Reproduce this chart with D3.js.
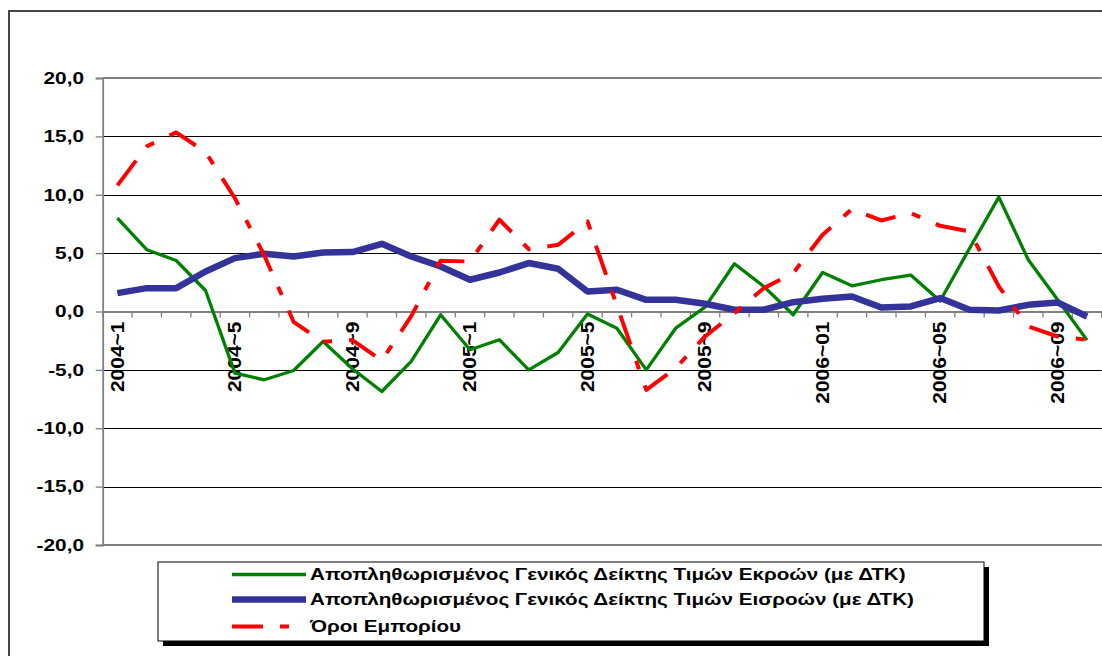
<!DOCTYPE html>
<html>
<head>
<meta charset="utf-8">
<script src="https://cdn.jsdelivr.net/npm/d3@7"></script>
<style>
  html, body { margin: 0; padding: 0; background: #fff; }
  svg { display: block; }
  text { font-family: "Liberation Sans", Arial, sans-serif; font-weight: bold; fill: #000; }
</style>
</head>
<body>
<svg id="chart" width="1102" height="656"></svg>
<script>
const categories = [
  "2004~1","2004~2","2004~3","2004~4","2004~5","2004~6","2004~7","2004~8","2004~9","2004~10","2004~11","2004~12",
  "2005~1","2005~2","2005~3","2005~4","2005~5","2005~6","2005~7","2005~8","2005~9","2005~10","2005~11","2005~12",
  "2006~01","2006~02","2006~03","2006~04","2006~05","2006~06","2006~07","2006~08","2006~09","2006~10"
];
const outputPrices = [8.0, 5.29, 4.37, 1.8, -5.28, -5.85, -5.05, -2.57, -4.9, -6.85, -4.28, -0.28,
  -3.28, -2.42, -5.0, -3.51, -0.22, -1.43, -5.0, -1.43, 0.37, 4.09, 2.14, -0.28,
  3.34, 2.2, 2.72, 3.12, 0.9, 5.4, 9.8, 4.43, 1.0, -2.45];
const inputPrices = [1.57, 2.0, 2.0, 3.43, 4.57, 4.94, 4.71, 5.06, 5.09, 5.8, 4.71, 3.86,
  2.72, 3.34, 4.15, 3.66, 1.71, 1.86, 1.0, 1.0, 0.66, 0.15, 0.15, 0.8,
  1.09, 1.29, 0.34, 0.43, 1.15, 0.15, 0.09, 0.57, 0.77, -0.43];
const termsOfTrade = [10.8, 14.14, 15.34, 13.66, 9.7, 4.8, -0.9, -2.6, -2.45, -4.2, -0.4, 4.35,
  4.28, 7.86, 5.34, 5.71, 7.71, 0.5, -6.71, -4.85, -2.14, -0.14, 2.0, 3.29,
  6.57, 8.77, 7.8, 8.43, 7.34, 6.86, 2.14, -1.28, -2.14, -2.43];
const yTicks = [-20, -15, -10, -5, 0, 5, 10, 15, 20];
const seriesNames = [
  "Αποπληθωρισμένος Γενικός Δείκτης Τιμών Εκροών (με ΔΤΚ)",
  "Αποπληθωρισμένος Γενικός Δείκτης Τιμών Εισροών (με ΔΤΚ)",
  "Όροι Εμπορίου"
];
const labelEvery = 4;

const series = [
  { name: seriesNames[0], values: outputPrices, color: "#008000", width: 3.3, dash: null },
  { name: seriesNames[1], values: inputPrices, color: "#333399", width: 6.5, dash: null },
  { name: seriesNames[2], values: termsOfTrade, color: "#ff0000", width: 4, dash: "31,17,9,17" }
];

const svg = d3.select("#chart");
const plot = { left: 102.7, right: 1101.7, top: 78, bottom: 545 };
const SX = 1.3; // horizontal stretch of text

// outer frame
svg.append("rect").attr("x", 9).attr("y", 11).attr("width", 1200).attr("height", 800)
  .attr("fill", "none").attr("stroke", "#333").attr("stroke-width", 1.8);

const x = d3.scaleBand().domain(categories).range([plot.left, plot.right]).paddingInner(0).paddingOuter(0);
const y = d3.scaleLinear().domain([-20, 20]).range([plot.bottom, plot.top]);

// gridlines
svg.append("g").selectAll("line").data(yTicks.filter(d => d !== 0 && Math.abs(d) !== 20)).join("line")
  .attr("x1", plot.left).attr("x2", plot.right)
  .attr("y1", d => Math.round(y(d)) + 0.5).attr("y2", d => Math.round(y(d)) + 0.5)
  .attr("stroke", "#000").attr("stroke-width", 1);
svg.append("g").selectAll("line").data(yTicks.filter(d => Math.abs(d) === 20)).join("line")
  .attr("x1", plot.left).attr("x2", plot.right)
  .attr("y1", d => y(d)).attr("y2", d => y(d))
  .attr("stroke", "#808080").attr("stroke-width", 1.8);

// y axis
const yAxis = d3.axisLeft(y).tickValues(yTicks).tickSize(7).tickFormat("");
const gy = svg.append("g").attr("transform", `translate(${plot.left},0)`).call(yAxis);
gy.select(".domain").attr("stroke", "#808080").attr("stroke-width", 1.8);
gy.selectAll(".tick line").attr("stroke", "#808080").attr("stroke-width", 1.3);

const fmt = d => d.toFixed(1).replace(".", ",");
svg.append("g").selectAll("text").data(yTicks).join("text")
  .attr("transform", d => `translate(84,${y(d)}) scale(${SX},1)`)
  .attr("text-anchor", "end").attr("dy", "0.36em")
  .style("font-size", "16px")
  .text(fmt);

// x axis at 0
const xAxis = d3.axisBottom(x).tickSize(0).tickFormat("");
const gx = svg.append("g").attr("transform", `translate(0,${y(0)})`).call(xAxis);
gx.select(".domain").attr("stroke", "#808080").attr("stroke-width", 2);
gx.selectAll(".tick").remove();
const bounds = categories.map(c => x(c)).concat([x(categories[categories.length - 1]) + x.bandwidth()]);
gx.append("g").selectAll("line").data(bounds).join("line")
  .attr("x1", d => d).attr("x2", d => d).attr("y1", 0).attr("y2", 6)
  .attr("stroke", "#808080").attr("stroke-width", 1.3);

svg.append("g").selectAll("text")
  .data(categories.filter((c, i) => i % labelEvery === 0))
  .join("text")
  .attr("transform", d => `translate(${x(d) + x.bandwidth() / 2},${y(0) + 10}) rotate(-90) scale(1.2,1)`)
  .attr("text-anchor", "end").attr("dy", "0.36em")
  .style("font-size", "17.5px")
  .text(d => d);

// lines
const line = d3.line()
  .x((d, i) => x(categories[i]) + x.bandwidth() / 2)
  .y(d => y(d));
series.forEach(s => {
  svg.append("path").datum(s.values)
    .attr("d", line)
    .attr("fill", "none")
    .attr("stroke", s.color)
    .attr("stroke-width", s.width)
    .attr("stroke-linejoin", "round")
    .attr("stroke-dasharray", s.dash);
});

// legend
const lg = { x: 158, y: 562, w: 826, h: 79 };
svg.append("rect").attr("x", lg.x + 5).attr("y", lg.y + 5).attr("width", lg.w).attr("height", lg.h).attr("fill", "#000");
svg.append("rect").attr("x", lg.x).attr("y", lg.y).attr("width", lg.w).attr("height", lg.h)
  .attr("fill", "#fff").attr("stroke", "#000").attr("stroke-width", 1);
const rowY = [574.5, 599.5, 626.5];
series.forEach((s, i) => {
  svg.append("line")
    .attr("x1", 232).attr("x2", 306).attr("y1", rowY[i]).attr("y2", rowY[i])
    .attr("stroke", s.color).attr("stroke-width", s.width)
    .attr("stroke-dasharray", s.dash);
  svg.append("text")
    .attr("transform", `translate(310,${rowY[i]}) scale(1.29,1)`)
    .attr("dy", "0.36em")
    .style("font-size", "16px")
    .text(s.name);
});
</script>
</body>
</html>
